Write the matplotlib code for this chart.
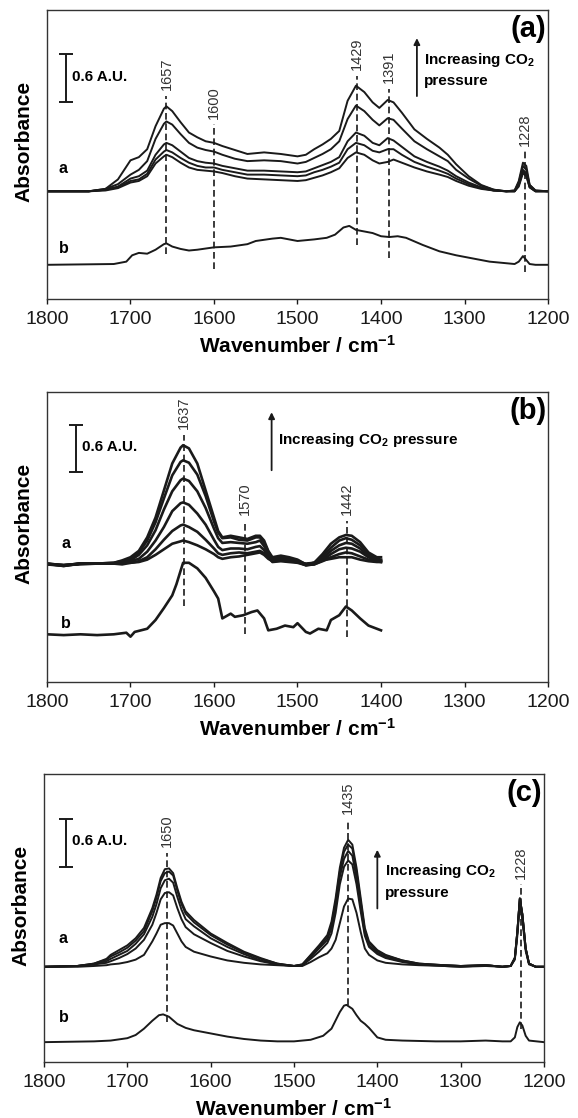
import matplotlib
matplotlib.use("Agg")
import matplotlib.pyplot as plt

plt.rcParams['font.family'] = ['Liberation Sans', 'DejaVu Sans']
plt.rcParams['mathtext.fontset'] = 'custom'
plt.rcParams['mathtext.rm'] = 'Liberation Sans'
plt.rcParams['mathtext.bf'] = 'Liberation Sans:bold'
plt.rcParams['mathtext.default'] = 'bf'

# ---------------- panel (a) ----------------
wn_a = [1800, 1750, 1730, 1715, 1700, 1690, 1680, 1670, 1660, 1657, 1650, 1640, 1630, 1620, 1610,
        1600, 1590, 1575, 1560, 1540, 1520, 1500, 1490, 1480, 1470, 1460, 1450, 1440, 1430, 1420,
        1410, 1402, 1392, 1385, 1375, 1360, 1345, 1330, 1320, 1310, 1295, 1280, 1265, 1250, 1240,
        1235, 1230, 1226, 1222, 1215, 1200]
a1 = [0, 0, 0.03, 0.15, 0.39, 0.43, 0.53, 0.82, 1.04, 1.07, 1.01, 0.87, 0.74, 0.68, 0.63,
      0.61, 0.57, 0.52, 0.47, 0.49, 0.47, 0.44, 0.46, 0.53, 0.59, 0.66, 0.76, 1.14, 1.33, 1.25,
      1.12, 1.05, 1.15, 1.12, 0.99, 0.78, 0.66, 0.55, 0.46, 0.34, 0.19, 0.08, 0.02, 0, 0.01,
      0.13, 0.36, 0.32, 0.08, 0.01, 0]
a2 = [0, 0, 0.03, 0.09, 0.21, 0.27, 0.38, 0.66, 0.85, 0.88, 0.84, 0.72, 0.61, 0.55, 0.52,
      0.50, 0.46, 0.41, 0.38, 0.39, 0.38, 0.35, 0.37, 0.42, 0.47, 0.53, 0.63, 0.91, 1.08, 1.01,
      0.90, 0.83, 0.92, 0.90, 0.79, 0.63, 0.53, 0.44, 0.38, 0.27, 0.16, 0.07, 0.02, 0, 0.01,
      0.11, 0.32, 0.27, 0.08, 0.01, 0]
a3 = [0, 0, 0.02, 0.06, 0.16, 0.19, 0.26, 0.46, 0.59, 0.61, 0.58, 0.50, 0.42, 0.38, 0.36,
      0.35, 0.32, 0.29, 0.26, 0.26, 0.25, 0.24, 0.25, 0.29, 0.33, 0.37, 0.43, 0.63, 0.74, 0.70,
      0.61, 0.58, 0.67, 0.64, 0.56, 0.44, 0.37, 0.31, 0.26, 0.19, 0.11, 0.05, 0.01, 0, 0,
      0.08, 0.27, 0.23, 0.06, 0, 0]
a4 = [0, 0, 0.02, 0.05, 0.13, 0.15, 0.22, 0.40, 0.50, 0.52, 0.49, 0.42, 0.36, 0.32, 0.30,
      0.30, 0.27, 0.24, 0.21, 0.21, 0.20, 0.19, 0.20, 0.24, 0.27, 0.31, 0.36, 0.53, 0.61, 0.58,
      0.51, 0.49, 0.53, 0.53, 0.46, 0.37, 0.31, 0.26, 0.22, 0.16, 0.09, 0.04, 0.01, 0, 0,
      0.08, 0.25, 0.21, 0.05, 0, 0]
a5 = [0, 0, 0.01, 0.04, 0.11, 0.13, 0.19, 0.35, 0.44, 0.46, 0.43, 0.36, 0.30, 0.27, 0.26,
      0.25, 0.23, 0.19, 0.16, 0.15, 0.14, 0.13, 0.14, 0.17, 0.20, 0.24, 0.29, 0.42, 0.49, 0.46,
      0.39, 0.35, 0.37, 0.40, 0.36, 0.30, 0.25, 0.21, 0.18, 0.13, 0.07, 0.03, 0.01, 0, 0,
      0.06, 0.23, 0.19, 0.05, 0, 0]
wn_a_ref = [1800, 1720, 1705, 1698, 1690, 1680, 1670, 1660, 1657, 1650, 1640, 1630, 1620, 1600, 1580,
            1560, 1550, 1530, 1520, 1500, 1480, 1465, 1455, 1445, 1438, 1430, 1420, 1410, 1400, 1390,
            1380, 1370, 1350, 1330, 1310, 1290, 1270, 1250, 1240, 1235, 1230, 1226, 1222, 1215, 1200]
a_ref = [0, 0.01, 0.04, 0.12, 0.15, 0.14, 0.19, 0.26, 0.27, 0.23, 0.20, 0.18, 0.19, 0.22, 0.23,
         0.26, 0.30, 0.33, 0.34, 0.30, 0.32, 0.34, 0.38, 0.47, 0.49, 0.44, 0.42, 0.40, 0.36, 0.35,
         0.36, 0.34, 0.25, 0.17, 0.12, 0.08, 0.04, 0.02, 0.01, 0.04, 0.11, 0.06, 0.01, 0, 0]
peaks_a = [1657, 1600, 1429, 1391, 1228]
peak_lbl_a = ['1657', '1600', '1429', '1391', '1228']
dash_top_a = [2.56, 2.20, 2.81, 2.65, 1.86]
dash_bot_a = [0.57, 0.38, 0.68, 0.51, 0.34]

# ---------------- panel (b) ----------------
wn_b = [1800, 1780, 1760, 1740, 1720, 1710, 1700, 1690, 1680, 1670, 1660, 1650, 1640, 1637, 1630,
        1620, 1610, 1600, 1595, 1590, 1580, 1570, 1560, 1550, 1545, 1540, 1535, 1530, 1520, 1510,
        1500, 1490, 1480, 1470, 1460, 1450, 1442, 1435, 1425, 1415, 1405, 1400]
b1 = [-0.01, -0.03, 0, 0, 0.01, 0.04, 0.08, 0.16, 0.33, 0.58, 0.92, 1.26, 1.46, 1.49, 1.45,
      1.26, 0.92, 0.58, 0.41, 0.33, 0.35, 0.33, 0.31, 0.35, 0.35, 0.29, 0.16, 0.08, 0.10, 0.08,
      0.05, -0.01, 0.01, 0.12, 0.25, 0.33, 0.36, 0.35, 0.27, 0.14, 0.08, 0.08]
b2 = [0, -0.02, -0.01, 0, 0.01, 0.03, 0.06, 0.14, 0.29, 0.52, 0.82, 1.11, 1.28, 1.30, 1.27,
      1.12, 0.85, 0.53, 0.39, 0.32, 0.33, 0.30, 0.29, 0.33, 0.33, 0.26, 0.15, 0.06, 0.08, 0.06,
      0.04, -0.01, 0.01, 0.09, 0.20, 0.29, 0.32, 0.30, 0.23, 0.12, 0.06, 0.05]
b3 = [-0.01, -0.02, 0, 0, 0, 0.02, 0.04, 0.11, 0.23, 0.42, 0.68, 0.91, 1.05, 1.07, 1.04,
      0.91, 0.70, 0.44, 0.32, 0.26, 0.27, 0.26, 0.25, 0.27, 0.29, 0.22, 0.13, 0.05, 0.06, 0.05,
      0.03, -0.02, 0, 0.06, 0.16, 0.23, 0.26, 0.25, 0.19, 0.09, 0.05, 0.04]
b4 = [0, -0.03, 0, 0, 0, 0.01, 0.03, 0.06, 0.15, 0.29, 0.46, 0.66, 0.76, 0.77, 0.74,
      0.63, 0.49, 0.30, 0.21, 0.17, 0.19, 0.19, 0.18, 0.21, 0.22, 0.17, 0.09, 0.03, 0.05, 0.03,
      0.02, -0.02, -0.01, 0.04, 0.12, 0.18, 0.20, 0.19, 0.15, 0.08, 0.04, 0.03]
b5 = [-0.01, -0.02, 0, 0, 0, 0.01, 0.01, 0.03, 0.08, 0.18, 0.30, 0.41, 0.48, 0.49, 0.46,
      0.40, 0.30, 0.19, 0.13, 0.11, 0.13, 0.14, 0.13, 0.15, 0.16, 0.13, 0.08, 0.02, 0.03, 0.02,
      0.01, -0.02, -0.01, 0.03, 0.08, 0.12, 0.14, 0.13, 0.09, 0.05, 0.03, 0.02]
b6 = [0, -0.02, 0, 0, 0, -0.01, 0.01, 0.02, 0.05, 0.11, 0.18, 0.25, 0.28, 0.29, 0.27,
      0.23, 0.18, 0.12, 0.08, 0.06, 0.08, 0.09, 0.11, 0.13, 0.14, 0.11, 0.06, 0.03, 0.04, 0.03,
      0.02, 0, 0.01, 0.04, 0.06, 0.08, 0.08, 0.08, 0.05, 0.03, 0.02, 0.02]
wn_b_ref = [1800, 1780, 1760, 1740, 1720, 1705, 1700, 1695, 1680, 1670, 1660, 1650, 1645, 1640, 1637,
            1630, 1620, 1610, 1600, 1595, 1590, 1580, 1575, 1565, 1555, 1548, 1540, 1535, 1525, 1515,
            1505, 1500, 1490, 1485, 1475, 1465, 1460, 1450, 1442, 1435, 1425, 1415, 1405, 1400]
b_ref = [0, -0.01, 0, -0.01, 0, 0.02, -0.03, 0.03, 0.07, 0.18, 0.33, 0.49, 0.63, 0.80, 0.90,
         0.90, 0.83, 0.71, 0.54, 0.45, 0.20, 0.26, 0.22, 0.24, 0.28, 0.30, 0.20, 0.05, 0.07, 0.11,
         0.09, 0.14, 0.03, 0.01, 0.07, 0.05, 0.18, 0.24, 0.35, 0.30, 0.20, 0.11, 0.07, 0.05]
peaks_b = [1636, 1563, 1441]
peak_lbl_b = ['1637', '1570', '1442']
dash_top_b = [3.11, 2.03, 2.03]
dash_bot_b = [0.95, 0.61, 0.57]

# ---------------- panel (c) ----------------
wn_c = [1800, 1760, 1740, 1725, 1720, 1710, 1700, 1690, 1680, 1670, 1665, 1660, 1655, 1650, 1645,
        1640, 1635, 1630, 1620, 1600, 1580, 1560, 1540, 1520, 1500, 1490, 1480, 1470, 1460, 1455,
        1450, 1445, 1440, 1435, 1430, 1425, 1420, 1415, 1410, 1400, 1390, 1370, 1350, 1320, 1300,
        1270, 1250, 1240, 1235, 1232, 1229, 1226, 1222, 1218, 1210, 1200]
c1 = [0, 0.01, 0.04, 0.10, 0.15, 0.21, 0.27, 0.36, 0.49, 0.74, 0.91, 1.12, 1.23, 1.24, 1.18,
      0.99, 0.82, 0.70, 0.59, 0.42, 0.30, 0.19, 0.11, 0.04, 0.01, 0.03, 0.15, 0.27, 0.40, 0.57,
      0.87, 1.25, 1.50, 1.60, 1.54, 1.25, 0.87, 0.49, 0.32, 0.21, 0.15, 0.08, 0.04, 0.02, 0.01,
      0.02, 0, 0.01, 0.11, 0.44, 0.86, 0.66, 0.23, 0.04, 0, 0]
c2 = [0, 0.01, 0.04, 0.09, 0.13, 0.18, 0.24, 0.33, 0.45, 0.70, 0.87, 1.08, 1.18, 1.20, 1.15,
      0.96, 0.79, 0.67, 0.56, 0.40, 0.28, 0.18, 0.10, 0.04, 0.01, 0.03, 0.14, 0.25, 0.37, 0.53,
      0.82, 1.20, 1.45, 1.54, 1.49, 1.20, 0.82, 0.46, 0.30, 0.20, 0.14, 0.08, 0.04, 0.02, 0.01,
      0.02, 0, 0.01, 0.11, 0.44, 0.86, 0.66, 0.23, 0.04, 0, 0]
c3 = [0, 0.01, 0.03, 0.07, 0.10, 0.15, 0.20, 0.29, 0.41, 0.63, 0.79, 0.99, 1.09, 1.11, 1.06,
      0.88, 0.72, 0.60, 0.51, 0.36, 0.25, 0.16, 0.08, 0.03, 0.01, 0.02, 0.12, 0.23, 0.34, 0.49,
      0.76, 1.13, 1.36, 1.46, 1.40, 1.12, 0.76, 0.42, 0.27, 0.18, 0.12, 0.07, 0.03, 0.02, 0.01,
      0.02, 0, 0.01, 0.11, 0.44, 0.86, 0.66, 0.23, 0.04, 0, 0]
c4 = [0, 0.01, 0.03, 0.05, 0.07, 0.11, 0.16, 0.23, 0.34, 0.53, 0.68, 0.85, 0.93, 0.94, 0.90,
      0.74, 0.60, 0.50, 0.41, 0.30, 0.20, 0.13, 0.07, 0.03, 0.01, 0.02, 0.10, 0.19, 0.30, 0.42,
      0.68, 1.04, 1.26, 1.34, 1.29, 1.04, 0.70, 0.39, 0.25, 0.16, 0.11, 0.06, 0.03, 0.01, 0,
      0.02, 0, 0.01, 0.11, 0.44, 0.86, 0.66, 0.23, 0.04, 0, 0]
c5 = [0, 0, 0.01, 0.02, 0.03, 0.04, 0.06, 0.09, 0.15, 0.32, 0.42, 0.53, 0.55, 0.55, 0.52,
      0.42, 0.32, 0.25, 0.19, 0.13, 0.08, 0.05, 0.03, 0.02, 0.01, 0.01, 0.06, 0.12, 0.17, 0.23,
      0.34, 0.55, 0.76, 0.86, 0.85, 0.68, 0.44, 0.23, 0.15, 0.08, 0.05, 0.03, 0.02, 0.01, 0,
      0.01, 0, 0.01, 0.09, 0.39, 0.80, 0.59, 0.20, 0.03, 0, 0]
wn_c_ref = [1800, 1740, 1720, 1700, 1690, 1680, 1670, 1662, 1657, 1650, 1640, 1630, 1620, 1600, 1580,
            1560, 1540, 1520, 1500, 1480, 1465, 1455, 1445, 1440, 1437, 1430, 1425, 1420, 1415, 1410,
            1400, 1390, 1370, 1330, 1300, 1270, 1250, 1240, 1235, 1232, 1229, 1226, 1222, 1218, 1200]
c_ref = [0, 0.01, 0.02, 0.05, 0.09, 0.17, 0.27, 0.34, 0.35, 0.32, 0.23, 0.18, 0.15, 0.11, 0.07,
         0.04, 0.02, 0.01, 0.01, 0.03, 0.08, 0.17, 0.38, 0.46, 0.47, 0.42, 0.34, 0.27, 0.23, 0.18,
         0.06, 0.03, 0.02, 0.01, 0.01, 0.02, 0.01, 0.01, 0.06, 0.19, 0.25, 0.21, 0.08, 0.02, 0]
peaks_c = [1652, 1435, 1228]
peak_lbl_c = ['1650', '1435', '1228']
dash_top_c = [2.64, 3.06, 2.24]
dash_bot_c = [0.50, 0.72, 0.42]

panels = [
    dict(rect=[0.0813, 0.7326, 0.8668, 0.2585], ylim=3.64, wn=wn_a, series=[a1, a2, a3, a4, a5],
         wn_ref=wn_a_ref, ref=a_ref, off_a=1.356, off_b=0.43, lw=1.4,
         peaks=peaks_a, labels=peak_lbl_a, top=dash_top_a, bot=dash_bot_a, tag='(a)',
         bar_x=1777, bar_y=2.48, bar_tx=1770, bar_ty=2.80,
         arr_x=1357, arr_y=(2.52, 3.32), txt_x=1349, txt=['Increasing CO$_2$', 'pressure'], txt_y=[3.01, 2.74],
         lab_x=1786, lab_y=(1.64, 0.63)),
    dict(rect=[0.0813, 0.3900, 0.8668, 0.2594], ylim=3.65, wn=wn_b, series=[b1, b2, b3, b4, b5, b6],
         wn_ref=wn_b_ref, ref=b_ref, off_a=1.49, off_b=0.60, lw=1.9,
         peaks=peaks_b, labels=peak_lbl_b, top=dash_top_b, bot=dash_bot_b, tag='(b)',
         bar_x=1765, bar_y=2.64, bar_tx=1758, bar_ty=2.96,
         arr_x=1531, arr_y=(2.63, 3.43), txt_x=1523, txt=['Increasing CO$_2$ pressure'], txt_y=[3.04],
         lab_x=1783, lab_y=(1.74, 0.74)),
    dict(rect=[0.0761, 0.0501, 0.8651, 0.2576], ylim=3.63, wn=wn_c, series=[c1, c2, c3, c4, c5],
         wn_ref=wn_c_ref, ref=c_ref, off_a=1.20, off_b=0.25, lw=1.4,
         peaks=peaks_c, labels=peak_lbl_c, top=dash_top_c, bot=dash_bot_c, tag='(c)',
         bar_x=1774, bar_y=2.46, bar_tx=1766, bar_ty=2.79,
         arr_x=1400, arr_y=(1.90, 2.71), txt_x=1391, txt=['Increasing CO$_2$', 'pressure'], txt_y=[2.41, 2.13],
         lab_x=1782, lab_y=(1.56, 0.56)),
]

fig = plt.figure(figsize=(5.78, 11.18), dpi=100)

for p in panels:
    ax = fig.add_axes(p['rect'])
    for s in p['series']:
        ax.plot(p['wn'], [v + p['off_a'] for v in s], color='#1a1a1a', lw=p['lw'])
    ax.plot(p['wn_ref'], [v + p['off_b'] for v in p['ref']], color='#1a1a1a', lw=p['lw'])

    for x, lbl, t, b in zip(p['peaks'], p['labels'], p['top'], p['bot']):
        ax.plot([x, x], [b, t], color='#1a1a1a', lw=1.2, ls=(0, (4, 2.2)))
        ax.text(x, t + 0.07, lbl, rotation=90, ha='center', va='bottom', fontsize=10.5, color='#333333')

    # scale bar
    ax.errorbar([p['bar_x']], [p['bar_y'] + 0.3], yerr=0.3, color='#1a1a1a', lw=1.4, capsize=5, capthick=1.4)
    ax.text(p['bar_tx'], p['bar_ty'], '0.6 A.U.', fontsize=11, fontweight='bold', va='center', ha='left')

    # pressure arrow
    ax.annotate('', xy=(p['arr_x'], p['arr_y'][1]), xytext=(p['arr_x'], p['arr_y'][0]),
                arrowprops=dict(arrowstyle='-|>', color='#1a1a1a', lw=1.3, mutation_scale=9))
    for t, ty in zip(p['txt'], p['txt_y']):
        ax.text(p['txt_x'], ty, t, fontsize=11, fontweight='bold', va='center', ha='left')

    ax.text(p['lab_x'], p['lab_y'][0], 'a', fontsize=11.5, fontweight='bold', va='center', ha='left')
    ax.text(p['lab_x'], p['lab_y'][1], 'b', fontsize=11.5, fontweight='bold', va='center', ha='left')
    ax.text(0.997, 0.935, p['tag'], transform=ax.transAxes, fontsize=21, fontweight='bold',
            ha='right', va='center')

    ax.set_xlim(1800, 1200)
    ax.set_ylim(0, p['ylim'])
    ax.set_xticks([1800, 1700, 1600, 1500, 1400, 1300, 1200])
    ax.set_yticks([])
    ax.tick_params(axis='x', direction='out', length=3.5, width=1, pad=5, labelsize=14, colors='#1a1a1a')
    for sp in ax.spines.values():
        sp.set_color('#333333')
        sp.set_linewidth(1.0)
    ax.set_ylabel('Absorbance', fontsize=15, fontweight='bold')
    ax.yaxis.set_label_coords(-0.046, 0.545)
    ax.yaxis.label.set_va('center')
    ax.set_xlabel('Wavenumber / cm$^{-1}$', fontsize=15, fontweight='bold')
    ax.xaxis.set_label_coords(0.5, -0.163)
    ax.xaxis.label.set_va('center')

fig.savefig('out.png', dpi=100)
